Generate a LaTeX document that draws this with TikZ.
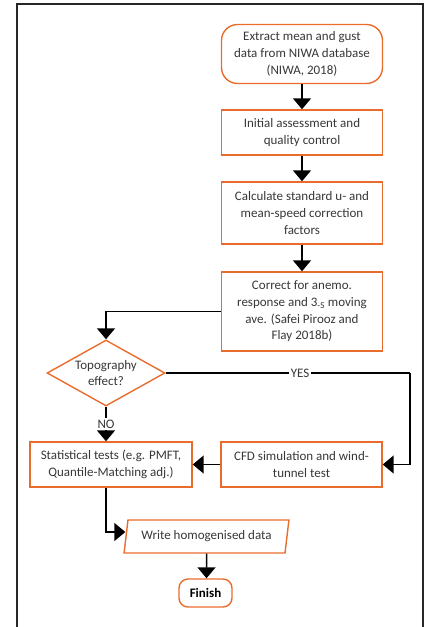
\documentclass[tikz,border=0pt]{standalone}
\usepackage{fontspec}
\setmainfont{Carlito}
\usetikzlibrary{shapes.geometric,arrows.meta}
\definecolor{org}{RGB}{234,108,45}
\definecolor{txt}{RGB}{55,55,55}
\begin{document}
\begin{tikzpicture}[x=1pt,y=-1pt,
  every node/.style={text=txt, font=\fontsize{13}{16.7}\selectfont},
  box/.style={draw=org, line width=1.4pt, rectangle, align=center, inner sep=0pt, minimum width=161pt},
  conn/.style={line width=1.5pt, black, -{Triangle[width=18pt,length=11pt]}},
  plain/.style={line width=1.5pt, black}
]
\useasboundingbox (0,0) rectangle (430,627);
\draw[line width=2pt, black!85] (16.5,627) -- (16.5,3.5) -- (423,3.5) -- (423,627);

\node[box, rounded corners=16pt, minimum height=59pt] (start) at (302,54) {Extract mean and gust\\data from NIWA database\\(NIWA, 2018)};
\node[box, minimum height=45pt] (b2) at (302,132.5) {Initial assessment and\\quality control};
\node[box, minimum height=62pt] (b3) at (302,213) {Calculate standard u- and\\mean-speed correction\\factors};
\node[box, minimum height=79pt] (b4) at (302,311.5) {Correct for anemo.\\response and 3\textsubscript{-S} moving\\ave. (Safei Pirooz and\\Flay 2018b)};
\node[draw=org, line width=1.4pt, diamond, aspect=1.79, minimum width=118pt, minimum height=66pt, inner sep=0pt, align=center, font=\fontsize{13}{15.7}\selectfont] (dia) at (106,373) {Topography\\effect?};
\node[box, minimum width=162pt, minimum height=45pt] (stat) at (111,464.5) {Statistical tests (e.g. PMFT,\\Quantile-Matching adj.)};
\node[box, minimum height=45pt] (cfd) at (301.5,464.5) {CFD simulation and wind-\\tunnel test};
\node[draw=org, line width=1.4pt, trapezium, trapezium left angle=74, trapezium right angle=106, trapezium stretches=true, minimum width=165pt, minimum height=33pt, inner sep=0pt] (para) at (206.5,536.5) {Write homogenised data};
\node[draw=org, line width=1.4pt, rounded corners=9pt, minimum width=53pt, minimum height=28pt, inner sep=0pt, font=\fontsize{13}{16}\selectfont\bfseries, text=black] (fin) at (205.5,593) {Finish};

\coordinate (yc) at (410,373);
\coordinate (sb) at (dia.south |- stat.south);

\draw[conn] (start) -- (b2);
\draw[conn] (b2) -- (b3);
\draw[conn] (b3) -- (b4);
\draw[conn] (b4.west) -| (dia.north);
\draw[plain] (dia.east) -- node[fill=white, inner sep=1.5pt, pos=0.55] {YES} (yc);
\draw[conn] (yc) |- (cfd.east);
\draw[conn] (dia.south) -- node[fill=white, inner sep=1.5pt] {NO} (dia.south |- stat.north);
\draw[conn] (cfd.west) -- (stat.east);
\draw[conn] (sb) |- ([yshift=4.5pt]para.west);
\draw[conn] (para) -- (para.south |- fin.north);
\end{tikzpicture}
\end{document}
